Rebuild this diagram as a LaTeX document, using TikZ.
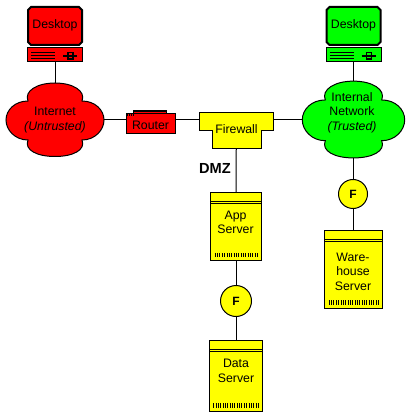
\documentclass[tikz,border=0pt]{standalone}
\usepackage{fontspec}
\setmainfont{Liberation Sans}
\definecolor{netred}{RGB}{255,0,0}
\definecolor{netgreen}{RGB}{0,255,0}
\definecolor{netyellow}{RGB}{255,255,0}
\tikzset{
  box/.style={draw=black,line width=1pt,inner sep=0pt,outer sep=0pt,rectangle},
  lbl/.style={font=\fontsize{12.3}{14}\selectfont,inner sep=0pt,align=center,text=black},
  link/.style={draw=black,line width=1pt},
  ghost/.style={inner sep=0pt,outer sep=0pt,rectangle},
  monitor/.style={line width=2pt,draw=black},
  thin line/.style={line width=.9pt,draw=black},
  bars/.style={line width=4.4pt,dash pattern=on 1pt off 1.35pt,draw=black},
}
\newcommand{\desktopunit}[3]{%
  \path[monitor,fill=#2] (#3-27,10) -- (#3-24,7) -- (#3+24,7) -- (#3+27,10) -- (#3+27,42) -- (#3+24,45) -- (#3-24,45) -- (#3-27,42) -- cycle;
  \node[lbl] (#1text) at (#3,25) {Desktop};
  \node[box,fill=#2,minimum width=55pt,minimum height=14.5pt] (#1) at (#3,54.5) {};
  \foreach \yy in {52,55,58} \draw[thin line] (#3-24,\yy) -- (#3,\yy);
  \draw[line width=2pt] (#3+8,56) -- (#3+22,56);
  \draw[line width=1.3pt] (#3+13,52.5) rectangle (#3+18,59);
}
\newcommand{\cloudshape}[4]{%
  \path[draw=black,line width=1pt,fill=#2,shift={(#1,#3)},scale=#4]
    (-27,-19) .. controls (-31,-29) and (-18,-37) .. (0,-37)
    .. controls (18,-37) and (31,-29) .. (27,-19)
    .. controls (40,-19) and (49,-10) .. (49,0)
    .. controls (49,10) and (40,20) .. (27,20)
    .. controls (31,30) and (18,36.5) .. (0,36.5)
    .. controls (-18,36.5) and (-31,30) .. (-27,20)
    .. controls (-40,20) and (-49,10) .. (-49,0)
    .. controls (-49,-10) and (-40,-19) .. (-27,-19) -- cycle;
}
\newcommand{\serverunit}[5]{%
  \node[box,fill=netyellow,minimum width=#5 pt,minimum height=#4pt-#3pt,anchor=north] (#1) at (#2,#3) {};
  \draw[thin line] (#2-#5/2,#3+8.5) -- (#2+#5/2,#3+8.5);
  \draw[thin line] (#2-#5/2,#3+11) -- (#2+#5/2,#3+11);
  \draw[bars] (#2-#5/2+4,#4-5.5) -- (#2+#5/2-3.5,#4-5.5);
}
\begin{document}
\begin{tikzpicture}[x=1pt,y=-1pt]
\useasboundingbox (0,0) rectangle (411,419);
\fill[white] (0,0) rectangle (411,419);

\cloudshape{55}{netred}{120}{1}
\cloudshape{353.5}{netgreen}{119.8}{1.045}
\node[ghost,minimum width=98pt,minimum height=73pt] (inet) at (55,120) {};
\node[ghost,minimum width=102pt,minimum height=77pt] (intranet) at (353.5,120) {};
\node[lbl] (inettext) at (55,120) {Internet\\[.6pt]\textit{(Untrusted)}};
\node[lbl] (intranettext) at (352,112.5) {Internal\\[.6pt]Network\\[.6pt]\textit{(Trusted)}};

\desktopunit{deskR}{netred}{55}
\desktopunit{deskG}{netgreen}{353.5}

\draw[line width=1pt,fill=netred] (133.5,114) -- (133.5,110.5) -- (166,110.5) -- (166,114);
\draw[line width=1.6pt] (134,111) -- (166,111);
\node[box,fill=netred,minimum width=49pt,minimum height=20pt] (router) at (150.5,124) {};
\draw[line width=2pt,dash pattern=on 1pt off 1pt] (127,115) -- (134,115);
\node[lbl] (routertext) at (150.5,125.5) {Router};

\path[draw=black,line width=1pt,fill=netyellow] (199.5,112.5) -- (273,112.5) -- (273,131) -- (261,131) -- (261,149) -- (212,149) -- (212,131) -- (199.5,131) -- cycle;
\node[ghost,minimum width=73.5pt,minimum height=36.5pt] (fw) at (236.25,130.75) {};
\node[lbl] (fwtext) at (236.5,129.5) {Firewall};

\node[font=\bfseries\fontsize{14.6}{16}\selectfont,inner sep=0pt] (dmz) at (215,168) {DMZ};

\serverunit{app}{236}{192.7}{260.3}{50.5}
\node[lbl] (apptext) at (235.5,222.5) {App\\[.6pt]Server};
\serverunit{data}{236}{340.7}{411}{53.5}
\node[lbl] (datatext) at (236,371) {Data\\[.6pt]Server};
\serverunit{ware}{353.5}{230.7}{308}{57.5}
\node[lbl] (waretext) at (353,271.5) {Ware-\\[.6pt]house\\[.6pt]Server};

\node[draw=black,line width=1pt,fill=netyellow,circle,minimum size=31pt,inner sep=0pt,outer sep=0pt,font=\bfseries\fontsize{12}{14}\selectfont] (f1) at (236,301) {F};
\node[draw=black,line width=1pt,fill=netyellow,circle,minimum size=29pt,inner sep=0pt,outer sep=0pt,font=\bfseries\fontsize{12}{14}\selectfont] (f2) at (353,194) {F};

\draw[link] (deskR.south) -- (inet.north);
\draw[link] (deskG.south) -- (intranet.north);
\draw[link] (inet.east) -- (inet.east -| router.west);
\draw[link] (router.east |- inet.east) -- (fw.west |- inet.east);
\draw[link] (fw.east |- intranet.west) -- (intranet.west);
\draw[link] (fw.south) -- (app.north);
\draw[link] (app.south) -- (f1.north);
\draw[link] (f1.south) -- (data.north);
\draw[link] (intranet.south) -- (f2.north -| intranet.south);
\draw[link] (f2.south) -- (ware.north -| f2.south);
\end{tikzpicture}
\end{document}
